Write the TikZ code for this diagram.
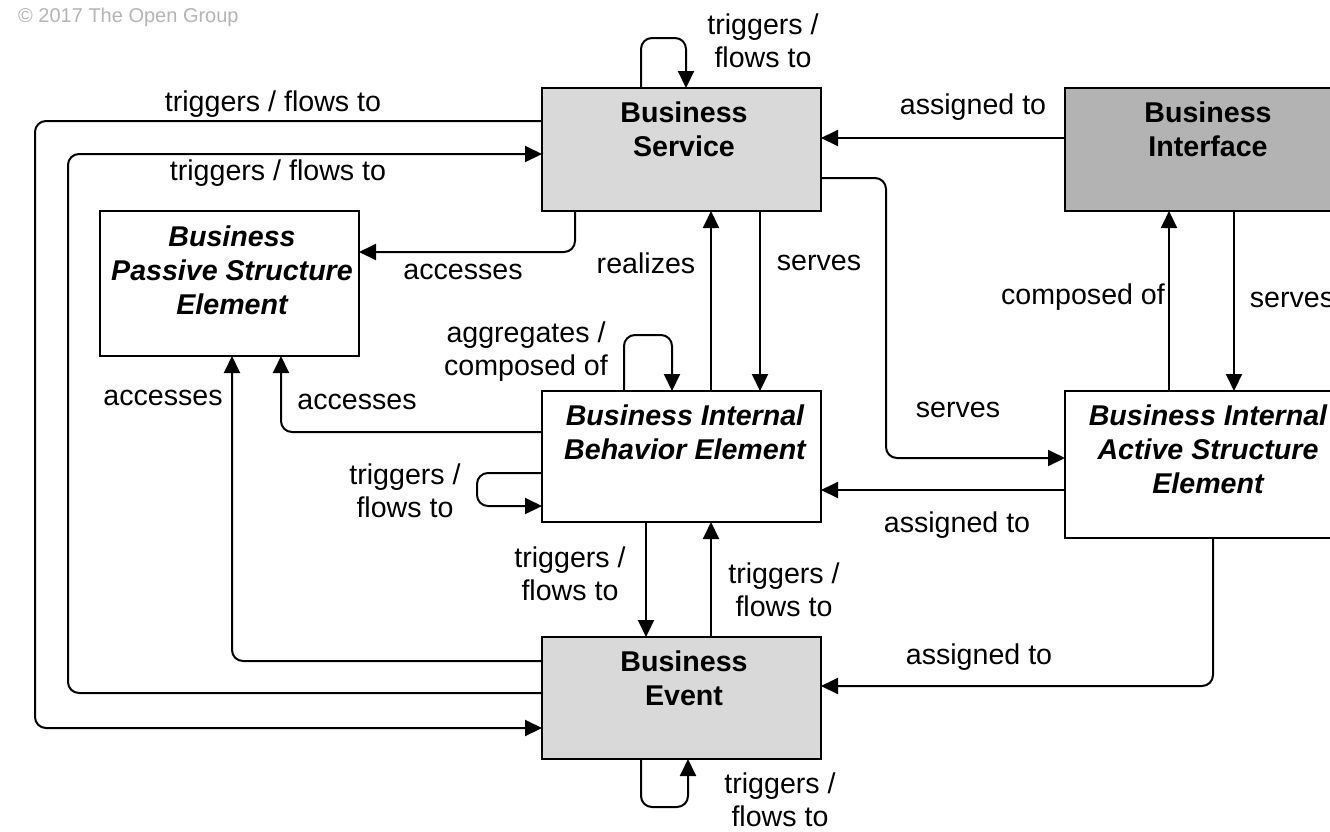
\documentclass[tikz,border=0pt]{standalone}
\usepackage{fontspec}
\setmainfont{Liberation Sans}
\usetikzlibrary{arrows.meta}
\definecolor{lightbox}{HTML}{D9D9D9}
\definecolor{darkbox}{HTML}{B3B3B3}
\definecolor{copygray}{HTML}{B5B5B5}
\begin{document}
\begin{tikzpicture}[x=1pt,y=-1pt,
  box/.style={draw, line width=2pt, rectangle, inner sep=0pt, outer sep=0pt},
  btext/.style={anchor=north, align=center, inner sep=0pt, font=\fontsize{28.6}{34}\selectfont\bfseries},
  itext/.style={anchor=north, align=center, inner sep=0pt, font=\fontsize{28.6}{34}\selectfont\bfseries\itshape},
  lbl/.style={align=center, inner sep=0pt, font=\fontsize{28.6}{33}\selectfont},
  arr/.style={line width=2pt, rounded corners=11pt, -{Triangle[length=17pt,width=16pt]}}]
\useasboundingbox (0,0) rectangle (1330,831);
\clip (0,0) rectangle (1330,831);
\fill[white] (0,0) rectangle (1330,831);
\node[anchor=west, inner sep=0pt, text=copygray, font=\fontsize{20}{24}\selectfont] (copy) at (18,17) {© 2017 The Open Group};
% boxes
\node[box, fill=lightbox, minimum width=279pt, minimum height=123pt] (svc) at (681.5,149.5) {};
\node[box, fill=darkbox, minimum width=285pt, minimum height=123pt] (ifc) at (1207.5,149.5) {};
\node[box, fill=white, minimum width=259pt, minimum height=145pt] (pas) at (229.5,283.5) {};
\node[box, fill=white, minimum width=279pt, minimum height=131pt] (beh) at (681.5,456.5) {};
\node[box, fill=white, minimum width=285pt, minimum height=147pt] (act) at (1207.5,464.5) {};
\node[box, fill=lightbox, minimum width=279pt, minimum height=122pt] (evt) at (681.5,698) {};
% box texts
\node[btext] (svct) at (684,102) {Business\\Service};
\node[btext] (ifct) at (1208,102) {Business\\Interface};
\node[itext] (past) at (232,226) {Business\\Passive Structure\\Element};
\node[itext] (beht) at (685,405) {Business Internal\\Behavior Element};
\node[itext] (actt) at (1208,405) {Business Internal\\Active Structure\\Element};
\node[btext] (evtt) at (684,651) {Business\\Event};
% connectors
\draw[arr] (svc.north -| 641,0) -- (641,38) -- (686,38) -- (svc.north -| 686,0);
\draw[arr] (svc.west |- 0,121) -- (35,121) -- (35,728) -- (evt.west |- 0,728);
\draw[arr] (evt.west |- 0,693) -- (68,693) -- (68,154) -- (svc.west |- 0,154);
\draw[arr] (ifc.west |- 0,138) -- (svc.east |- 0,138);
\draw[arr] (svc.south -| 575,0) -- (575,252) -- (pas.east |- 0,252);
\draw[arr] (beh.north -| 711,0) -- (svc.south -| 711,0);
\draw[arr] (svc.south -| 760,0) -- (beh.north -| 760,0);
\draw[arr] (svc.east |- 0,178) -- (886,178) -- (886,458) -- (act.west |- 0,458);
\draw[arr] (act.north -| 1169,0) -- (ifc.south -| 1169,0);
\draw[arr] (ifc.south -| 1234,0) -- (act.north -| 1234,0);
\draw[arr] (beh.north -| 624,0) -- (624,335) -- (672,335) -- (beh.north -| 672,0);
\draw[arr] (beh.west |- 0,432) -- (281,432) -- (pas.south -| 281,0);
\draw[arr] (beh.west |- 0,473) -- (477,473) -- (477,506) -- (beh.west |- 0,506);
\draw[arr] (act.west |- 0,490) -- (beh.east |- 0,490);
\draw[arr] (beh.south -| 646,0) -- (evt.north -| 646,0);
\draw[arr] (evt.north -| 711,0) -- (beh.south -| 711,0);
\draw[arr] (evt.west |- 0,661) -- (232,661) -- (pas.south -| 232,0);
\draw[arr] (act.south -| 1213,0) -- (1213,686) -- (evt.east |- 0,686);
\draw[arr] (evt.south -| 641,0) -- (641,807) -- (688,807) -- (evt.south -| 688,0);
% labels
\node[lbl] (l1) at (763,40.5) {triggers /\\flows to};
\node[lbl] (l2) at (273,104) {triggers / flows to};
\node[lbl] (l3) at (278,173) {triggers / flows to};
\node[lbl] (l4) at (973,107) {assigned to};
\node[lbl] (l5) at (463,272) {accesses};
\node[lbl] (l6) at (646,263) {realizes};
\node[lbl] (l7) at (819,263) {serves};
\node[lbl] (l8) at (1083,297) {composed of};
\node[lbl] (l9) at (1292,300) {serves};
\node[lbl] (l10) at (958,410) {serves};
\node[lbl] (l11) at (526,351.5) {aggregates /\\composed of};
\node[lbl] (l12) at (357,402) {accesses};
\node[lbl] (l13) at (163,398) {accesses};
\node[lbl] (l14) at (405,490.5) {triggers /\\flows to};
\node[lbl] (l15) at (957,525) {assigned to};
\node[lbl] (l16) at (570,573.5) {triggers /\\flows to};
\node[lbl] (l17) at (784,589.5) {triggers /\\flows to};
\node[lbl] (l18) at (979,657) {assigned to};
\node[lbl] (l19) at (780,800) {triggers /\\flows to};
\end{tikzpicture}
\end{document}
